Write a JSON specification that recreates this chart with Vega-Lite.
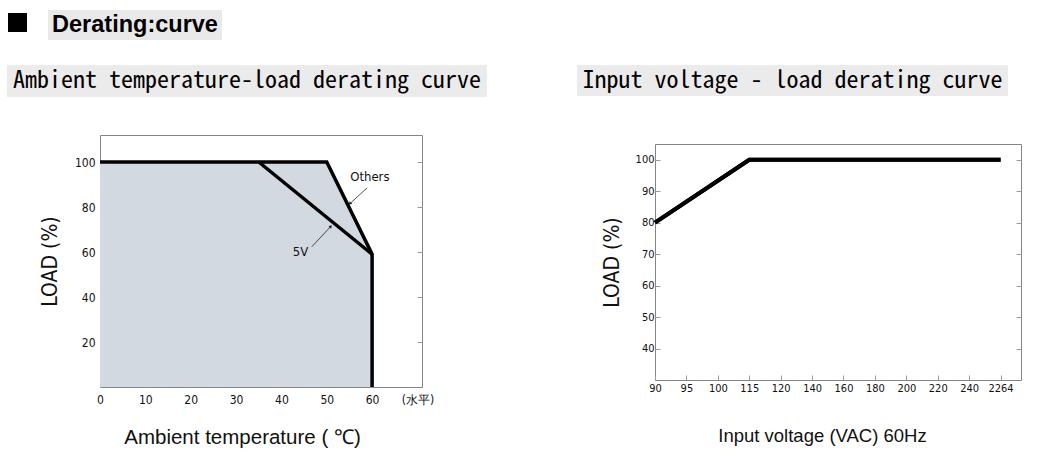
{
  "$schema": "https://vega.github.io/schema/vega-lite/v6.json",
  "background": "white",
  "padding": {"left": 7, "top": 10, "right": 0, "bottom": 0},
  "datasets": {
    "curve": [
      {"series": "Others", "seq": 1, "temp": 0, "load": 100},
      {"series": "Others", "seq": 2, "temp": 50, "load": 100},
      {"series": "Others", "seq": 3, "temp": 60, "load": 59},
      {"series": "Others", "seq": 4, "temp": 60, "load": 0},
      {"series": "5V", "seq": 1, "temp": 35, "load": 100},
      {"series": "5V", "seq": 2, "temp": 60, "load": 59}
    ],
    "notes": [
      {"label": "Others", "tx": 59.5, "ty": 93.3, "lx1": 58.9, "ly1": 88.5, "lx2": 55.1, "ly2": 81.5},
      {"label": "5V", "tx": 44.2, "ty": 60.2, "lx1": 46.7, "ly1": 62.3, "lx2": 50.9, "ly2": 71.4}
    ],
    "input": [
      {"volt": 90, "load": 80, "seq": 1},
      {"volt": 115, "load": 100, "seq": 2},
      {"volt": 2264, "load": 100, "seq": 3}
    ]
  },
  "config": {
    "view": {"stroke": "#858585", "strokeWidth": 1},
    "font": "Liberation Sans",
    "axis": {
      "domain": false,
      "grid": false,
      "tickColor": "#9a9a9a",
      "tickSize": -5,
      "labelFont": "Liberation Sans Narrow, DejaVu Sans Condensed, Liberation Sans",
      "labelColor": "#111111",
      "labelFontSize": 11,
      "titleFont": "Liberation Sans",
      "titleFontWeight": "normal",
      "titleColor": "#111111"
    }
  },
  "spacing": 25,
  "vconcat": [
    {
      "spacing": 20,
      "hconcat": [
        {
          "width": 21, "height": 25,
          "data": {"values": [{}]},
          "mark": {"type": "point", "shape": "square", "size": 361, "filled": true, "color": "black", "opacity": 1},
          "view": {"stroke": null}
        },
        {
          "width": 174, "height": 30,
          "data": {"values": [{"t": "Derating:curve"}]},
          "mark": {"type": "text", "fontSize": 23.5, "fontWeight": "bold", "font": "Liberation Sans", "color": "black"},
          "encoding": {"text": {"field": "t"}},
          "view": {"fill": "#e9e9e9", "stroke": null}
        }
      ]
    },
    {
      "spacing": 32,
      "vconcat": [
        {
          "spacing": 90,
          "hconcat": [
            {
              "width": 480, "height": 32,
              "data": {"values": [{"t": "Ambient temperature-load derating curve"}]},
              "mark": {"type": "text", "fontSize": 24, "font": "Noto Sans Mono CJK SC, DejaVu Sans Mono", "color": "black"},
              "encoding": {"text": {"field": "t"}},
              "view": {"fill": "#ebebeb", "stroke": null}
            },
            {
              "width": 431, "height": 31,
              "data": {"values": [{"t": "Input voltage - load derating curve"}]},
              "mark": {"type": "text", "fontSize": 24, "font": "Noto Sans Mono CJK SC, DejaVu Sans Mono", "color": "black"},
              "encoding": {"text": {"field": "t"}},
              "view": {"fill": "#ebebeb", "stroke": null}
            }
          ]
        },
        {
          "spacing": 0,
          "hconcat": [
            {
              "width": 31, "height": 10,
              "data": {"values": [{}]},
              "mark": {"type": "text", "text": ""},
              "view": {"stroke": null}
            },
            {
              "width": 322, "height": 252,
              "resolve": {"axis": {"y": "independent"}},
              "layer": [
                {
                  "data": {"name": "curve"},
                  "transform": [{"filter": "datum.series === 'Others' && datum.load > 0"}],
                  "mark": {"type": "area", "color": "#d3d9e0", "opacity": 1, "interpolate": "linear"},
                  "encoding": {
                    "x": {"field": "temp", "type": "quantitative", "scale": {"domain": [0, 71], "nice": false},
                      "axis": {
                        "values": [0, 10, 20, 30, 40, 50, 60, 70],
                        "labelExpr": "datum.value == 70 ? '(水平)' : datum.label",
                        "tickColor": {"condition": {"test": "datum.value == 70", "value": "transparent"}, "value": "#9a9a9a"},
                        "labelPadding": 12,
                        "labelFontSize": 12,
                        "labelFlush": false,
                        "title": "Ambient temperature ( ℃)",
                        "titleFontSize": 20.5,
                        "titlePadding": 22,
                        "titleX": 142
                      }
                    },
                    "y": {"field": "load", "type": "quantitative", "scale": {"domain": [0, 112], "nice": false},
                      "axis": {
                        "values": [20, 40, 60, 80, 100],
                        "labelPadding": 10,
                        "labelFontSize": 12,
                        "title": "LOAD (%)",
                        "titleFont": "Liberation Sans Narrow, DejaVu Sans Condensed, Liberation Sans",
                        "titleFontSize": 21,
                        "titlePadding": 14
                      }
                    }
                  }
                },
                {
                  "data": {"name": "curve"},
                  "mark": {"type": "line", "color": "black", "strokeWidth": 3.5},
                  "encoding": {
                    "x": {"field": "temp", "type": "quantitative"},
                    "y": {"field": "load", "type": "quantitative",
                      "axis": {"orient": "right", "values": [20, 40, 60, 80, 100], "labels": false, "title": null}
                    },
                    "detail": {"field": "series"},
                    "order": {"field": "seq"}
                  }
                },
                {
                  "data": {"name": "notes"},
                  "mark": {"type": "rule", "color": "#222222", "strokeWidth": 0.8},
                  "encoding": {
                    "x": {"field": "lx1", "type": "quantitative"},
                    "y": {"field": "ly1", "type": "quantitative", "axis": null},
                    "x2": {"field": "lx2"},
                    "y2": {"field": "ly2"}
                  }
                },
                {
                  "data": {"name": "notes"},
                  "mark": {"type": "text", "font": "Liberation Sans Narrow, DejaVu Sans Condensed, Liberation Sans", "fontSize": 13, "color": "#111111"},
                  "encoding": {
                    "x": {"field": "tx", "type": "quantitative"},
                    "y": {"field": "ty", "type": "quantitative", "axis": null},
                    "text": {"field": "label"}
                  }
                },
                {
                  "data": {"name": "notes"},
                  "transform": [{"filter": "datum.label === 'Others'"}],
                  "mark": {"type": "point", "shape": "triangle-up", "filled": true, "color": "#222222", "opacity": 1, "size": 14, "angle": 221},
                  "encoding": {
                    "x": {"field": "lx2", "type": "quantitative"},
                    "y": {"field": "ly2", "type": "quantitative", "axis": null}
                  }
                },
                {
                  "data": {"name": "notes"},
                  "transform": [{"filter": "datum.label === '5V'"}],
                  "mark": {"type": "point", "shape": "triangle-up", "filled": true, "color": "#222222", "opacity": 1, "size": 14, "angle": 43},
                  "encoding": {
                    "x": {"field": "lx2", "type": "quantitative"},
                    "y": {"field": "ly2", "type": "quantitative", "axis": null}
                  }
                }
              ]
            },
            {
              "width": 165, "height": 10,
              "data": {"values": [{}]},
              "mark": {"type": "text", "text": ""},
              "view": {"stroke": null}
            },
            {
              "spacing": 2,
              "vconcat": [
                {
                  "width": 10, "height": 1,
                  "data": {"values": [{}]},
                  "mark": {"type": "text", "text": ""},
                  "view": {"stroke": null}
                },
                {
                  "width": 366, "height": 236,
                  "data": {"name": "input"},
                  "resolve": {"axis": {"y": "independent"}},
                  "layer": [
                    {
                      "mark": {"type": "line", "color": "black", "strokeWidth": 4},
                      "encoding": {
                        "x": {"field": "volt", "type": "ordinal",
                          "scale": {"type": "point", "domain": [90, 95, 100, 115, 120, 140, 160, 180, 200, 220, 240, 2264], "padding": 0.325, "align": 0, "round": false},
                          "axis": {
                            "labelAngle": 0,
                            "labelPadding": 7,
                            "labelFontSize": 11,
                            "title": "Input voltage  (VAC) 60Hz",
                            "titleFontSize": 18.5,
                            "titlePadding": 33,
                            "titleX": 167
                          }
                        },
                        "y": {"field": "load", "type": "quantitative", "scale": {"domain": [30, 105], "nice": false},
                          "axis": {
                            "values": [40, 50, 60, 70, 80, 90, 100],
                            "labelPadding": 6,
                            "labelFontSize": 11,
                            "title": "LOAD (%)",
                            "titleFont": "Liberation Sans Narrow, DejaVu Sans Condensed, Liberation Sans",
                            "titleFontSize": 21,
                            "titlePadding": 13
                          }
                        },
                        "order": {"field": "seq"}
                      }
                    },
                    {
                      "mark": {"type": "line", "color": "black", "strokeWidth": 4},
                      "encoding": {
                        "x": {"field": "volt", "type": "ordinal"},
                        "y": {"field": "load", "type": "quantitative",
                          "axis": {"orient": "right", "values": [40, 50, 60, 70, 80, 90, 100], "labels": false, "title": null}
                        },
                        "order": {"field": "seq"}
                      }
                    }
                  ]
                }
              ]
            }
          ]
        }
      ]
    }
  ]
}
